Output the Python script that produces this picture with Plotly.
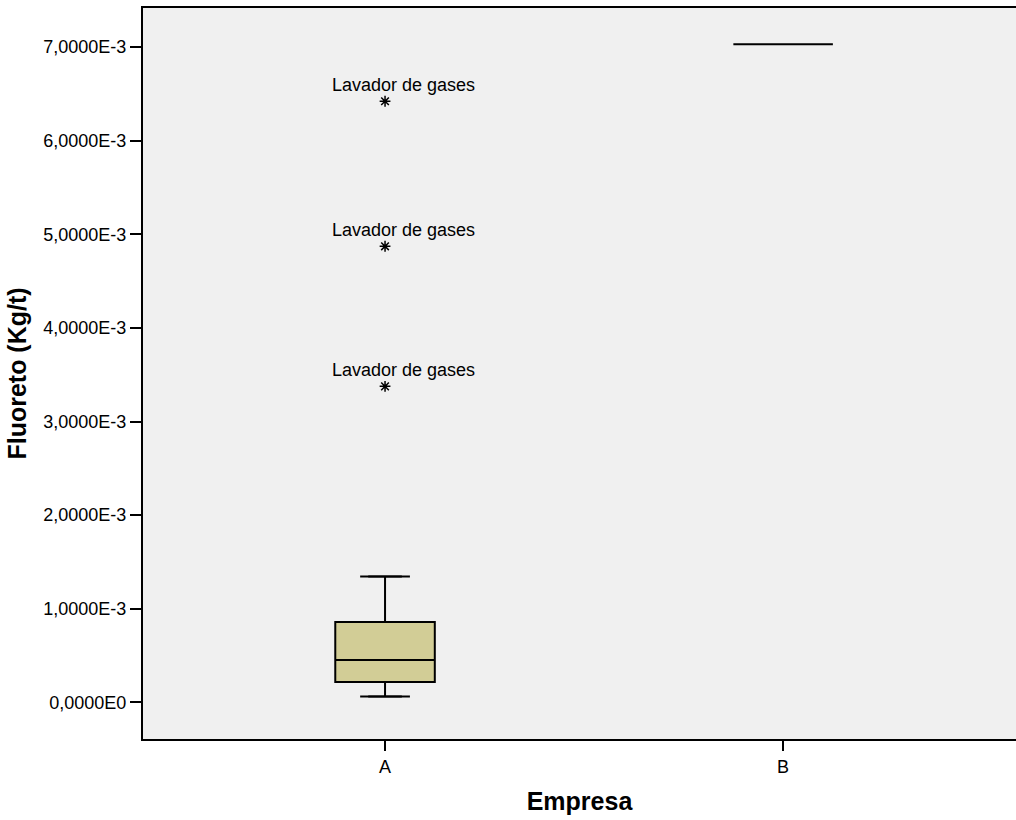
import plotly.graph_objects as go

# ---- data ----
categories = ["A", "B"]
q1 = [0.000218, 0.00703]
median = [0.000453, 0.00703]
q3 = [0.000859, 0.00703]
lower_fence = [0.000064, 0.00703]
upper_fence = [0.001346, 0.00703]

outlier_cat = ["A", "A", "A"]
outlier_val = [0.006421, 0.004872, 0.003376]
outlier_label = ["Lavador de gases", "Lavador de gases", "Lavador de gases"]

ytick_vals = [0, 0.001, 0.002, 0.003, 0.004, 0.005, 0.006, 0.007]
ytick_text = ["0,0000E0", "1,0000E-3", "2,0000E-3", "3,0000E-3",
              "4,0000E-3", "5,0000E-3", "6,0000E-3", "7,0000E-3"]

FONT = "Liberation Sans, Arial, sans-serif"

fig = go.Figure()

fig.add_trace(go.Box(
    x=categories, q1=q1, median=median, q3=q3,
    lowerfence=lower_fence, upperfence=upper_fence,
    width=0.25, fillcolor="#D2CD96",
    line=dict(color="black", width=2),
    boxpoints=False, hoverinfo="skip", showlegend=False,
))

# whisker caps (only for the non-degenerate box)
fig.add_trace(go.Scatter(
    x=categories[:1] * 2, y=[lower_fence[0], upper_fence[0]],
    mode="markers",
    marker=dict(symbol="line-ew-open", size=24, color="black",
                line=dict(color="black", width=2)),
    hoverinfo="skip", showlegend=False,
))

# extreme values
fig.add_trace(go.Scatter(
    x=outlier_cat, y=outlier_val, mode="markers",
    marker=dict(symbol="asterisk-open", size=9, color="black",
                line=dict(color="black", width=1.5)),
    hoverinfo="skip", showlegend=False,
))

for c, v, t in zip(outlier_cat, outlier_val, outlier_label):
    fig.add_annotation(x=c, y=v, text=t, showarrow=False,
                       xanchor="center", yanchor="bottom",
                       xshift=18, yshift=4,
                       font=dict(family=FONT, size=18, color="black"))

fig.update_layout(
    width=1016, height=820,
    margin=dict(l=143, r=0, t=8, b=81),
    paper_bgcolor="white", plot_bgcolor="#F0F0F0",
    font=dict(family=FONT, color="black"),
)

fig.update_xaxes(
    type="category", range=[-0.608, 1.585],
    showline=True, linecolor="black", linewidth=2, mirror=True,
    ticks="outside", ticklen=10, tickwidth=2, tickcolor="black",
    showgrid=False, zeroline=False,
    tickfont=dict(family=FONT, size=18),
    title=dict(text="<b>Empresa</b>", font=dict(family=FONT, size=25), standoff=17),
)
fig.update_yaxes(
    range=[-0.000391, 0.007417],
    tickvals=ytick_vals, ticktext=ytick_text,
    showline=True, linecolor="black", linewidth=2, mirror=False,
    ticks="outside", ticklen=11, tickwidth=2, tickcolor="black",
    showgrid=False, zeroline=False,
    tickfont=dict(family=FONT, size=18),
    title=dict(text="<b>Fluoreto (Kg/t)</b>", font=dict(family=FONT, size=25), standoff=10),
)

fig.write_html("out.html")
